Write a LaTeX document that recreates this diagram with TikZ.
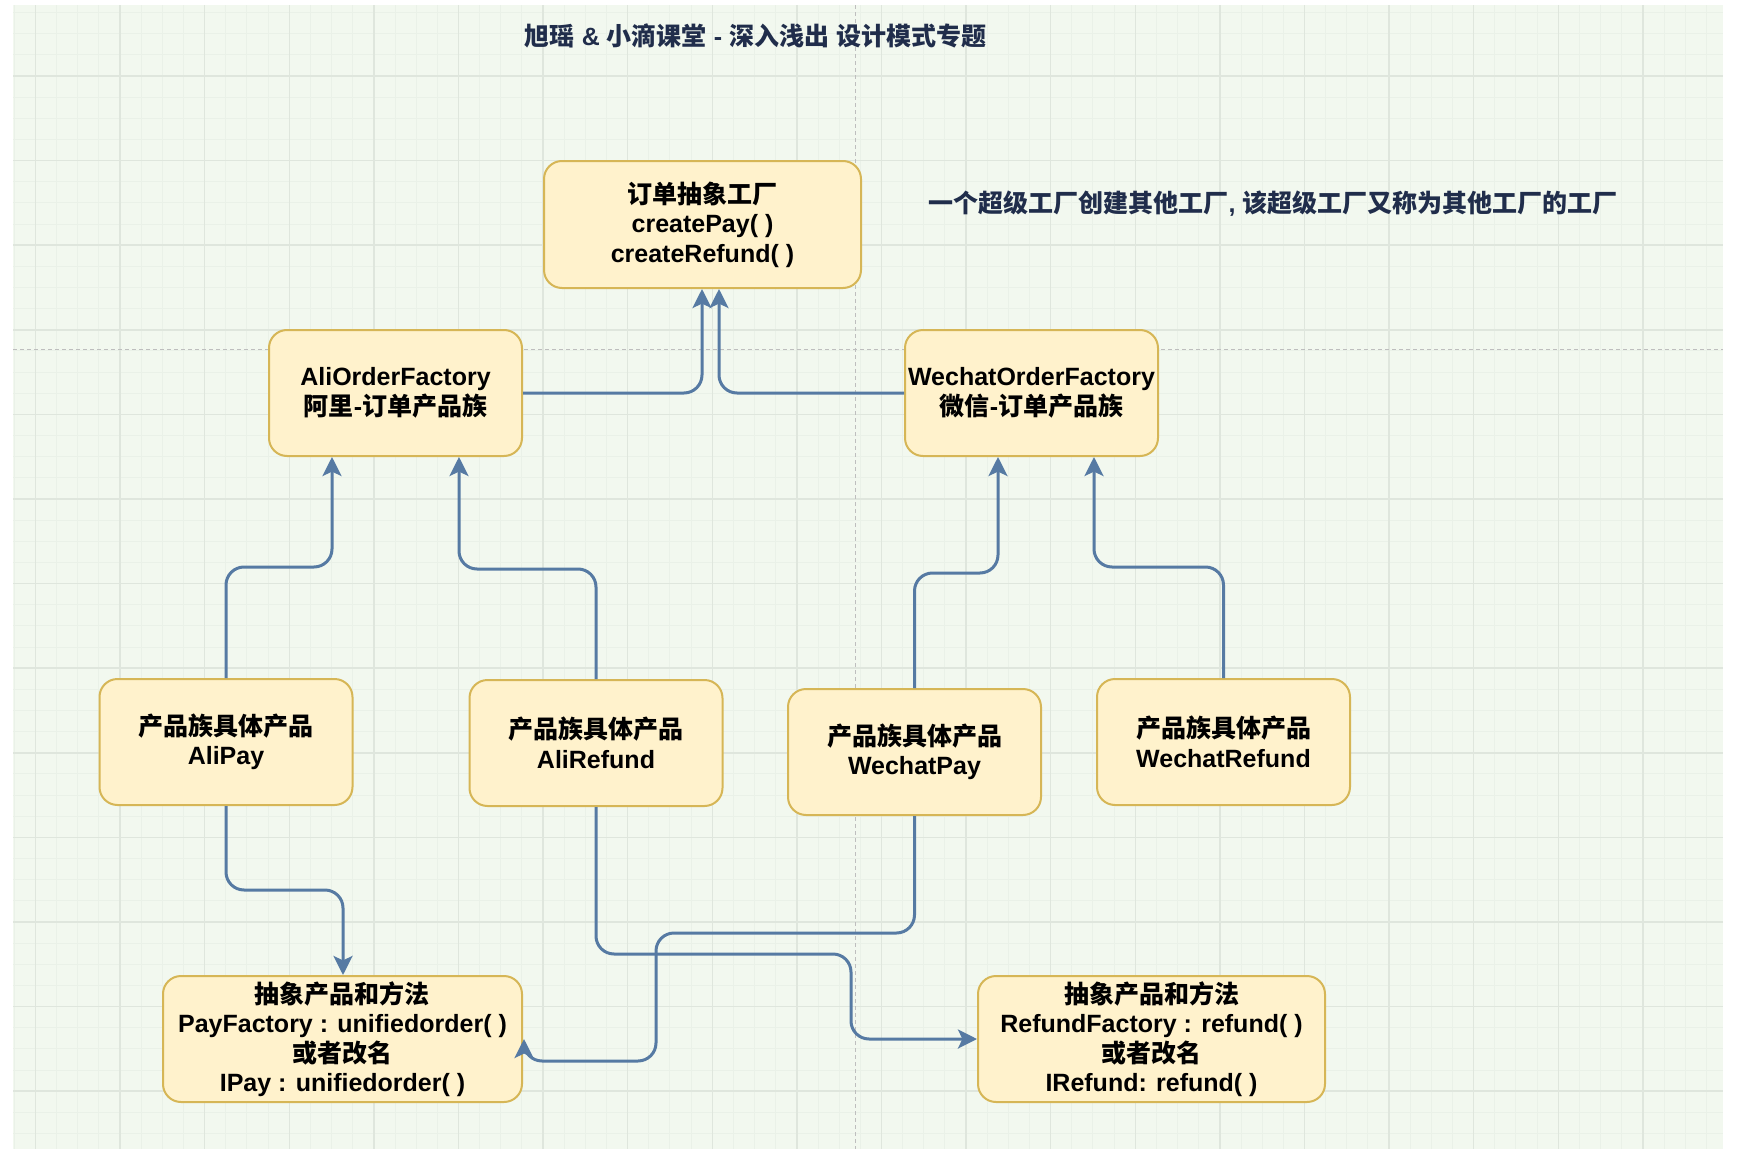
\documentclass[tikz,border=0pt]{standalone}
\usepackage{fontspec}
\setmainfont{Liberation Sans}[BoldFont={Liberation Sans Bold}]
\newfontfamily\cjk{Noto Sans CJK SC}
\newfontfamily\latinbold{Liberation Sans Bold}
\usetikzlibrary{arrows.meta}
\newcommand{\zh}[1]{{\cjk\bfseries #1}}
\definecolor{bggreen}{RGB}{242,248,239}
\definecolor{gridminor}{RGB}{234,241,232}
\definecolor{gridmajor}{RGB}{223,230,221}
\definecolor{boxfill}{RGB}{255,242,204}
\definecolor{boxline}{RGB}{214,182,86}
\definecolor{connblue}{RGB}{86,122,163}
\definecolor{navy}{RGB}{32,45,75}
\definecolor{dashgray}{RGB}{190,190,190}
\begin{document}
\begin{tikzpicture}[x=0.5pt,y=-0.5pt,
  box/.style={draw=boxline, fill=boxfill, line width=1pt, rounded corners=9pt,
    align=center, inner sep=0pt, text=black,
    font=\fontsize{12.5}{14.75}\selectfont\latinbold},
  pbox/.style={box, minimum width=126.5pt, minimum height=63pt},
  conn/.style={draw=connblue, line width=1.5pt, rounded corners=9pt,
    -{Stealth[length=9.5pt,width=9.5pt,inset=2.2pt,fill=connblue]}},
  gminor/.style={draw=gridminor, line width=0.5pt},
  gmajor/.style={draw=gridmajor, line width=0.75pt},
  guide/.style={draw=dashgray, line width=0.5pt, dash pattern=on 2pt off 1.5pt},
  heading/.style={text=navy, font=\fontsize{12.5}{14.75}\selectfont\latinbold, inner sep=0pt}]
\useasboundingbox (0,0) rectangle (1737,1167);
\fill[white] (0,0) rectangle (1737,1167);
\fill[bggreen] (13,5) rectangle (1723,1149);
% grid
\foreach \k in {0,...,80} {\draw[gminor] ({14.3+21.15*\k},5) -- ({14.3+21.15*\k},1149);}
\foreach \k in {0,...,53} {\draw[gminor] (13,{12.5+21.15*\k}) -- (1723,{12.5+21.15*\k});}
\foreach \k in {1,5,...,77} {\draw[gmajor] ({14.3+21.15*\k},5) -- ({14.3+21.15*\k},1149);}
\foreach \k in {3,7,...,51} {\draw[gmajor] (13,{12.5+21.15*\k}) -- (1723,{12.5+21.15*\k});}
% guides
\draw[guide] (855,5) -- (855,1149);
\draw[guide] (13,349) -- (1723,349);

% texts
\node[heading] (title) at (755.5,35.5) {\zh{旭瑶} \& \zh{小滴课堂} - \zh{深入浅出} \zh{设计模式专题}};
\node[heading] (desc) at (1273,204) {\zh{一个超级工厂创建其他工厂}, \zh{该超级工厂又称为其他工厂的工厂}};

% nodes
\node[box, minimum width=158.5pt, minimum height=63.5pt] (top) at (702.5,224.5)
  {\zh{订单抽象工厂}\\createPay( )\\createRefund( )};
\node[pbox] (ali) at (395.5,393) {AliOrderFactory\\\zh{阿里}-\zh{订单产品族}};
\node[pbox] (wechat) at (1031.5,393) {WechatOrderFactory\\\zh{微信}-\zh{订单产品族}};
\node[pbox] (alipay) at (226,742) {\zh{产品族具体产品}\\AliPay};
\node[pbox] (alirefund) at (596,743) {\zh{产品族具体产品}\\AliRefund};
\node[pbox] (wechatpay) at (914.5,752) {\zh{产品族具体产品}\\WechatPay};
\node[pbox] (wechatrefund) at (1223.5,742) {\zh{产品族具体产品}\\WechatRefund};
\node[box, minimum width=179.5pt, minimum height=63pt] (payf) at (342.5,1039)
  {\zh{抽象产品和方法}\\PayFactory : unifiedorder( )\\\zh{或者改名}\\IPay : unifiedorder( )};
\node[box, minimum width=173.5pt, minimum height=63pt] (refundf) at (1151.5,1039)
  {\zh{抽象产品和方法}\\RefundFactory : refund( )\\\zh{或者改名}\\IRefund: refund( )};

% bend points
\coordinate (t1) at (702,300);
\coordinate (t2) at (719,300);
\coordinate (b3) at (332,567);
\coordinate (b4) at (459,569);
\coordinate (b5) at (998,573);
\coordinate (b6) at (1094,567);
\coordinate (b7) at (343,890);
\coordinate (b8) at (851,954);
\coordinate (b9) at (656,933);
\coordinate (b10) at (524,1061);

% connectors
\draw[conn] (ali.east) -| (top.south -| t1) [sharp corners];
\draw[conn] (wechat.west) -| (top.south -| t2) [sharp corners];
\draw[conn] (alipay.north) |- (b3) -- (b3 |- ali.south) [sharp corners];
\draw[conn] (alirefund.north) |- (b4) -- (b4 |- ali.south) [sharp corners];
\draw[conn] (wechatpay.north) |- (b5) -- (b5 |- wechat.south) [sharp corners];
\draw[conn] (wechatrefund.north) |- (b6) -- (b6 |- wechat.south) [sharp corners];
\draw[conn] (alipay.south) |- (b7) -- (b7 |- payf.north) [sharp corners];
\draw[conn] (alirefund.south) |- (b8) |- (refundf.west) [sharp corners];
\draw[conn] (wechatpay.south) |- (b9) |- (b10) -- (b10 |- payf.east) [sharp corners];
\end{tikzpicture}
\end{document}
